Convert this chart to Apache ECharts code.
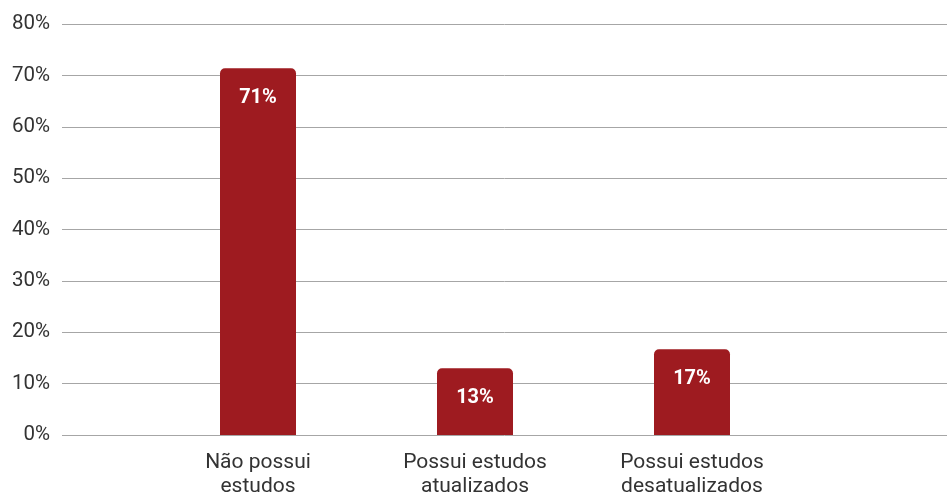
<!DOCTYPE html>
<html>
<head>
<meta charset="utf-8">
<script src="https://cdn.jsdelivr.net/npm/echarts@6/dist/echarts.min.js"></script>
<style>
  html, body { margin: 0; padding: 0; background: #fff; }
  #chart { width: 947px; height: 497px; }
</style>
</head>
<body>
<div id="chart"></div>
<script>
  // dados
  const categories = ["Não possui\nestudos", "Possui estudos\natualizados", "Possui estudos\ndesatualizados"];
  const values = [71.4, 13, 16.7];
  const labelTexts = ["71%", "13%", "17%"];
  const yTicks = { min: 0, max: 80, interval: 10 };

  const barColor = "#9e1b20";
  const font = "Roboto";

  const chart = echarts.init(document.getElementById("chart"));
  chart.setOption({
    animation: false,
    textStyle: { fontFamily: font },
    grid: [
      { left: 62, right: 0, top: 24, bottom: 62, outerBoundsMode: "none" },
      { left: 149.5, width: 651, top: 24, bottom: 62, outerBoundsMode: "none" }
    ],
    xAxis: [
      { gridIndex: 0, type: "value", show: false, min: 0, max: 1 },
      {
        gridIndex: 1,
        type: "category",
        data: categories,
        axisLine: { show: false },
        axisTick: { show: false },
        axisLabel: { color: "#333", fontSize: 21, lineHeight: 24, margin: 16, fontFamily: font }
      }
    ],
    yAxis: [
      {
        gridIndex: 0,
        type: "value",
        min: yTicks.min,
        max: yTicks.max,
        interval: yTicks.interval,
        axisLine: { show: false },
        axisTick: { show: false },
        axisLabel: { color: "#333", fontSize: 20.5, margin: 12, formatter: "{value}%", fontFamily: font },
        splitLine: { lineStyle: { color: "#a6a6a6", width: 1 } }
      },
      {
        gridIndex: 1,
        type: "value",
        min: yTicks.min,
        max: yTicks.max,
        show: false
      }
    ],
    series: [{
      type: "bar",
      xAxisIndex: 1,
      yAxisIndex: 1,
      data: values,
      barWidth: 76,
      itemStyle: { color: barColor, borderRadius: [5, 5, 0, 0] },
      label: {
        show: true,
        position: "insideTop",
        distance: 20,
        color: "#fff",
        fontSize: 20,
        fontWeight: "bold",
        fontFamily: font,
        formatter: p => labelTexts[p.dataIndex]
      }
    }]
  });
</script>
</body>
</html>
